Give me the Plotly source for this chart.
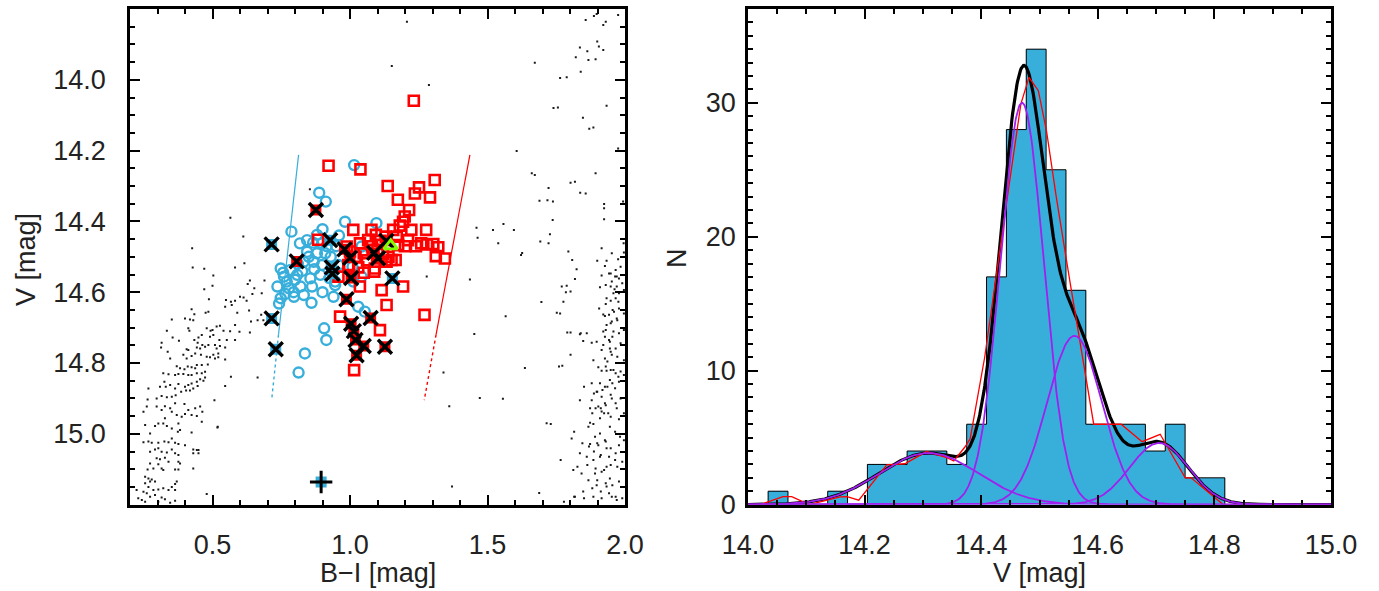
import numpy as np
import plotly.graph_objects as go

# ---------------- colour-magnitude diagram (left panel) ----------------
# field stars, blue (left) sequence
field_left_bi = [
    0.428, 0.470, 0.582, 0.616, 0.503, 0.500, 0.470, 0.636, 0.689, 0.628,
    0.652, 0.679, 0.645, 0.613, 0.600, 0.624, 0.549, 0.567, 0.582, 0.487,
    0.546, 0.570, 0.590, 0.633, 0.677, 0.664, 0.685, 0.485, 0.475, 0.434,
    0.424, 0.400, 0.418, 0.430, 0.352, 0.412, 0.416, 0.479, 0.493, 0.500,
    0.515, 0.527, 0.540, 0.564, 0.582, 0.598, 0.636, 0.640, 0.582, 0.552,
    0.525, 0.503, 0.491, 0.461, 0.449, 0.434, 0.378, 0.355, 0.334, 0.315,
    0.313, 0.446, 0.443, 0.455, 0.463, 0.473, 0.485, 0.509, 0.515, 0.527,
    0.546, 0.521, 0.503, 0.491, 0.509, 0.521, 0.546, 0.479, 0.458, 0.437,
    0.424, 0.412, 0.406, 0.394, 0.406, 0.346, 0.337, 0.370, 0.382, 0.398,
    0.410, 0.424, 0.437, 0.443, 0.461, 0.483, 0.473, 0.461, 0.443, 0.424,
    0.412, 0.394, 0.376, 0.364, 0.340, 0.321, 0.325, 0.309, 0.330, 0.346,
    0.364, 0.376, 0.400, 0.412, 0.424, 0.443, 0.455, 0.473, 0.467, 0.446,
    0.430, 0.418, 0.404, 0.386, 0.366, 0.352, 0.334, 0.315, 0.297, 0.267,
    0.264, 0.261, 0.249, 0.297, 0.315, 0.327, 0.346, 0.352, 0.370, 0.388,
    0.400, 0.412, 0.437, 0.455, 0.443, 0.463, 0.424, 0.364, 0.398, 0.327,
    0.321, 0.334, 0.352, 0.376, 0.382, 0.374, 0.303, 0.291, 0.273, 0.255,
    0.424, 0.461, 0.519, 0.507, 0.546, 0.567, 0.664, 0.249, 0.267, 0.279,
    0.303, 0.325, 0.340, 0.352, 0.364, 0.376, 0.400, 0.273, 0.291, 0.303,
    0.315, 0.334, 0.352, 0.364, 0.376, 0.297, 0.309, 0.327, 0.340, 0.376,
    0.382, 0.273, 0.264, 0.285, 0.303, 0.315, 0.321, 0.364, 0.376, 0.430,
    0.443, 0.430, 0.449, 0.430, 0.255, 0.267, 0.279, 0.291, 0.273, 0.255,
    0.267, 0.285, 0.303, 0.321, 0.340, 0.364, 0.364, 0.352, 0.370, 0.224,
    0.249, 0.261, 0.273, 0.291, 0.315, 0.327, 0.346, 0.230, 0.243, 0.255,
    0.303, 0.479, 0.364, 0.565, 0.612, 0.426,
]
field_left_v = [
    14.530, 14.534, 14.530, 14.518, 14.553, 14.582, 14.592, 14.567, 14.567, 14.577,
    14.589, 14.603, 14.605, 14.615, 14.613, 14.624, 14.622, 14.627, 14.624, 14.620,
    14.641, 14.636, 14.658, 14.652, 14.664, 14.679, 14.679, 14.655, 14.658, 14.662,
    14.648, 14.674, 14.677, 14.679, 14.677, 14.702, 14.709, 14.702, 14.709, 14.707,
    14.697, 14.695, 14.709, 14.710, 14.693, 14.712, 14.714, 14.683, 14.735, 14.735,
    14.735, 14.721, 14.726, 14.721, 14.728, 14.735, 14.737, 14.728, 14.709, 14.743,
    14.756, 14.743, 14.756, 14.759, 14.749, 14.754, 14.749, 14.749, 14.759, 14.752,
    14.756, 14.773, 14.777, 14.784, 14.787, 14.784, 14.790, 14.782, 14.777, 14.773,
    14.780, 14.763, 14.761, 14.777, 14.787, 14.787, 14.768, 14.809, 14.815, 14.818,
    14.810, 14.812, 14.815, 14.806, 14.806, 14.804, 14.825, 14.829, 14.829, 14.834,
    14.834, 14.831, 14.831, 14.834, 14.832, 14.829, 14.853, 14.867, 14.867, 14.862,
    14.872, 14.859, 14.867, 14.862, 14.858, 14.853, 14.846, 14.841, 14.850, 14.865,
    14.872, 14.878, 14.878, 14.881, 14.891, 14.895, 14.897, 14.893, 14.900, 14.872,
    14.903, 14.923, 14.938, 14.923, 14.933, 14.922, 14.928, 14.938, 14.947, 14.952,
    14.944, 14.933, 14.928, 14.923, 14.950, 14.938, 14.947, 14.914, 14.916, 14.956,
    14.971, 14.978, 14.985, 14.971, 14.989, 14.994, 14.971, 14.978, 14.999, 14.975,
    14.996, 14.966, 14.980, 14.905, 14.865, 14.839, 14.841, 15.024, 15.022, 15.025,
    15.025, 15.022, 15.024, 15.013, 15.025, 15.029, 15.032, 15.051, 15.044, 15.041,
    15.051, 15.053, 15.044, 15.055, 15.060, 15.069, 15.072, 15.068, 15.079, 15.079,
    15.084, 15.084, 15.101, 15.098, 15.086, 15.098, 15.102, 15.101, 15.101, 15.044,
    15.046, 15.055, 15.055, 15.098, 15.121, 15.126, 15.129, 15.135, 15.135, 15.140,
    15.150, 15.159, 15.157, 15.154, 15.159, 15.142, 15.159, 15.150, 15.135, 15.159,
    15.164, 15.168, 15.178, 15.173, 15.180, 15.185, 15.195, 15.182, 15.187, 15.192,
    15.192, 15.170, 15.189, 14.390, 14.443, 14.476,
]

# field stars, red (right) sequence
field_right_bi = [
    1.975, 1.897, 1.887, 1.857, 1.930, 1.921, 1.899, 1.905, 1.921, 1.836,
    1.863, 1.867, 1.893, 1.839, 1.788, 1.756, 1.933, 1.847, 1.885, 1.975,
    1.893, 1.818, 1.857, 1.722, 1.718, 1.738, 1.737, 1.924, 1.924, 1.924,
    1.993, 1.727, 1.722, 1.975, 1.808, 1.933, 1.995, 1.996, 1.984, 1.966,
    1.942, 1.970, 1.978, 1.824, 1.788, 1.802, 1.930, 1.948, 1.962, 1.990,
    1.996, 1.978, 1.966, 1.948, 1.930, 1.764, 1.921, 1.942, 1.960, 1.978,
    1.996, 1.972, 1.948, 1.930, 1.996, 1.978, 1.954, 1.942, 1.802, 1.839,
    1.861, 1.897, 1.984, 1.966, 1.948, 1.972, 1.996, 1.936, 1.930, 1.948,
    1.966, 1.984, 1.996, 1.772, 1.851, 1.978, 1.954, 1.936, 1.918, 1.899,
    1.887, 1.948, 1.984, 1.966, 1.930, 1.912, 1.893, 1.881, 1.924, 1.948,
    1.978, 1.996, 1.730, 1.815, 1.845, 1.869, 1.899, 1.930, 1.948, 1.978,
    1.996, 1.887, 1.912, 1.942, 1.966, 1.827, 1.863, 1.893, 1.924, 1.948,
    1.972, 1.990, 1.899, 1.930, 1.954, 1.978, 1.881, 1.912, 1.942, 1.966,
    1.990, 1.815, 1.851, 1.778,
    1.915, 1.952, 1.794, 1.899, 1.927, 1.948, 1.964, 1.915, 1.818, 1.952,
    1.970, 1.909, 1.770, 1.785, 1.958, 1.933, 1.976, 1.776, 1.906, 1.955,
    1.752, 1.927, 1.970, 1.952, 1.933, 1.921, 1.958, 1.790, 1.836, 1.927,
    1.848, 1.879, 1.945, 1.921, 1.945, 1.915, 1.952, 1.802, 1.885, 1.927,
    1.903, 1.915, 1.933, 1.958, 1.760, 1.976, 1.945, 1.909, 1.879, 1.927,
    1.964, 1.897, 1.915, 1.879, 1.952, 1.836, 1.927, 1.903, 1.970, 1.873,
    1.915, 1.939, 1.909, 1.873, 1.885, 1.867, 1.715, 1.945, 1.964, 1.909,
    1.891, 1.927, 1.982, 1.873, 1.806, 1.903, 1.933, 1.836, 1.861, 1.885,
    1.909, 1.933, 1.964, 1.812, 1.842, 1.891, 1.915, 1.945, 1.867, 1.897,
    1.933, 1.848, 1.885, 1.915, 1.952, 1.970, 1.818,
]
field_right_v = [
    13.817, 13.814, 13.820, 13.831, 13.836, 13.845, 13.892, 13.906, 13.916, 13.909,
    13.919, 13.944, 13.942, 13.977, 13.993, 14.078, 14.073, 14.107, 14.135, 14.194,
    14.264, 14.288, 14.321, 14.306, 14.340, 14.344, 14.396, 14.351, 14.363, 14.394,
    14.344, 14.436, 14.462, 14.507, 14.509, 14.511, 14.462, 14.488, 14.528, 14.537,
    14.547, 14.556, 14.561, 14.535, 14.582, 14.598, 14.580, 14.584, 14.592, 14.575,
    14.594, 14.603, 14.617, 14.624, 14.633, 14.660, 14.663, 14.664, 14.655, 14.646,
    14.660, 14.679, 14.688, 14.707, 14.707, 14.716, 14.726, 14.735, 14.714, 14.716,
    14.716, 14.740, 14.744, 14.759, 14.768, 14.782, 14.792, 14.796, 14.810, 14.820,
    14.829, 14.824, 14.834, 14.808, 14.867, 14.853, 14.857, 14.867, 14.876, 14.881,
    14.886, 14.890, 14.900, 14.914, 14.919, 14.928, 14.928, 14.942, 14.942, 14.952,
    14.959, 14.942, 14.972, 14.994, 15.027, 15.036, 15.027, 15.022, 15.041, 15.032,
    15.018, 15.050, 15.060, 15.065, 15.055, 15.093, 15.088, 15.098, 15.102, 15.088,
    15.093, 15.079, 15.131, 15.140, 15.145, 15.135, 15.154, 15.163, 15.168, 15.178,
    15.182, 15.178, 15.182, 15.192,
    14.476, 14.490, 14.485, 14.511, 14.526, 14.547, 14.556, 14.553, 14.563, 14.570,
    14.584, 14.586, 14.584, 14.600, 14.603, 14.617, 14.627, 14.627, 14.646, 14.650,
    14.658, 14.667, 14.674, 14.683, 14.693, 14.711, 14.711, 14.714, 14.719, 14.726,
    14.738, 14.743, 14.740, 14.749, 14.759, 14.763, 14.777, 14.777, 14.792, 14.787,
    14.812, 14.822, 14.822, 14.820, 14.810, 14.839, 14.848, 14.857, 14.857, 14.867,
    14.871, 14.881, 14.895, 14.905, 14.900, 14.905, 14.914, 14.923, 14.928, 14.928,
    14.937, 14.942, 14.956, 14.969, 14.972, 14.980, 14.970, 14.980, 14.994, 14.999,
    15.008, 15.018, 15.008, 15.029, 15.013, 15.032, 15.041, 15.055, 15.065, 15.074,
    15.065, 15.093, 15.074, 15.102, 15.112, 15.112, 15.107, 15.126, 15.131, 15.145,
    15.149, 15.163, 15.178, 15.182, 15.178, 15.187, 15.178,
]

# scattered field stars in between
field_mid_bi = [
    1.207, 1.152, 1.287, 1.672, 1.606, 1.661, 1.689, 1.460, 1.464, 1.520,
    1.596, 1.539, 1.622, 1.692, 1.740, 1.764, 1.672, 1.802, 1.837, 1.870,
    1.821, 1.436, 1.558, 1.566, 1.472, 1.361, 1.556, 1.636, 1.452, 1.696,
    1.766, 1.371, 1.688, 0.518, 0.449, 1.626, 0.854, 1.279, 1.340,
]
field_mid_v = [
    13.836, 13.961, 14.015, 13.952, 14.201, 14.264, 14.342, 14.418, 14.446, 14.424,
    14.424, 14.462, 14.495, 14.457, 14.080, 13.995, 14.269, 14.291, 14.319, 14.138,
    13.936, 14.564, 14.407, 14.668, 14.899, 14.922, 14.901, 14.814, 14.718, 14.628,
    15.074, 15.149, 15.167, 14.982, 15.046, 14.489, 14.309, 14.556, 14.827,
]

# blue horizontal-branch members (open circles)
blue_bi = [
    1.015, 0.888, 0.912, 0.787, 0.982, 0.900, 1.096, 0.880, 0.844, 0.818,
    0.866, 0.898, 0.844, 0.880, 0.832, 0.868, 0.898, 0.748, 0.784, 0.760,
    0.808, 0.856, 0.892, 0.736, 0.778, 0.820, 0.862, 0.748, 0.742, 0.796,
    0.832, 0.946, 1.012, 1.042, 0.940, 1.030, 1.054, 0.958, 1.042, 0.946,
    0.906, 0.914, 0.836, 0.813, 0.757, 0.770, 0.795, 0.810, 0.826, 0.850,
    0.870, 0.910, 0.930, 0.950, 0.800, 0.765, 0.900, 0.860, 0.915, 0.925,
    0.960, 1.009,
]
blue_v = [
    14.241, 14.319, 14.344, 14.429, 14.401, 14.422, 14.405, 14.438, 14.453, 14.462,
    14.460, 14.462, 14.486, 14.490, 14.514, 14.514, 14.523, 14.533, 14.537, 14.556,
    14.551, 14.561, 14.551, 14.584, 14.589, 14.584, 14.584, 14.617, 14.632, 14.613,
    14.608, 14.580, 14.570, 14.556, 14.613, 14.641, 14.655, 14.523, 14.471, 14.570,
    14.702, 14.735, 14.773, 14.827, 14.545, 14.570, 14.600, 14.520, 14.540, 14.500,
    14.535, 14.490, 14.500, 14.470, 14.565, 14.605, 14.600, 14.630, 14.470, 14.560,
    14.440, 14.528,
]

# red clump members (open squares)
red_bi = [
    1.232, 0.922, 1.038, 1.137, 1.308, 1.251, 1.236, 1.291, 1.174, 1.215,
    1.199, 1.193, 1.181, 1.012, 1.078, 1.157, 1.223, 1.277, 0.884, 1.094,
    1.130, 1.170, 1.211, 1.259, 1.303, 1.321, 1.312, 1.345, 1.175, 1.066,
    1.036, 0.988, 1.151, 1.133, 1.166, 0.994, 1.090, 0.958, 1.193, 1.115,
    1.036, 1.133, 1.271, 0.964, 1.109, 1.015, 1.088, 1.000, 1.020, 1.050,
    1.062, 1.080, 1.100, 1.120, 1.140, 1.030, 0.997, 1.050, 1.082, 1.200,
    1.240, 1.280, 1.110,
]
red_v = [
    14.059, 14.243, 14.253, 14.300, 14.283, 14.304, 14.321, 14.332, 14.339, 14.368,
    14.386, 14.401, 14.412, 14.424, 14.424, 14.424, 14.424, 14.424, 14.452, 14.438,
    14.443, 14.443, 14.453, 14.462, 14.464, 14.473, 14.498, 14.505, 14.467, 14.453,
    14.462, 14.471, 14.509, 14.514, 14.509, 14.523, 14.533, 14.556, 14.584, 14.594,
    14.584, 14.636, 14.664, 14.669, 14.707, 14.820, 14.542, 14.485, 14.500, 14.490,
    14.510, 14.470, 14.480, 14.492, 14.500, 14.530, 14.528, 14.545, 14.481, 14.470,
    14.470, 14.465, 14.455,
]

# flagged stars (crosses) in the blue and in the red group
cross_blue_bi = [0.715, 0.715, 0.730, 1.154, 0.928, 0.934, 0.936]
cross_blue_v = [14.465, 14.674, 14.761, 14.561, 14.453, 14.530, 14.548]
cross_red_bi = [0.876, 0.806, 1.127, 0.980, 1.000, 1.004, 0.987, 1.088, 1.102,
                1.132, 1.004, 1.075, 1.014, 1.020, 1.050, 1.024]
cross_red_v = [14.368, 14.513, 14.754, 14.479, 14.503, 14.560, 14.620, 14.489, 14.504,
               14.455, 14.689, 14.673, 14.710, 14.735, 14.752, 14.778]

# single special stars
tri_bi, tri_v = [1.148], [14.469]
plus_bi, plus_v = [0.895], [15.136]

# instability-strip style boundaries (solid part, dotted extension)
blue_edge_bi = [0.813, 0.740, 0.715]
blue_edge_v = [14.212, 14.720, 14.905]
red_edge_bi = [1.436, 1.313, 1.270]
red_edge_v = [14.212, 14.720, 14.905]

# ---------------- V-magnitude histogram (right panel) ----------------
hist_start = 14.0345
hist_binsize = 0.03406
hist_counts = [1, 0, 0, 1, 0, 3, 3, 4, 4, 3, 6, 17, 28, 34, 25, 16, 6, 6, 6, 4, 6, 2, 2]

# fitted Gaussian components
gauss_center = [14.31, 14.47, 14.56, 14.705]
gauss_amp = [3.85, 30.0, 12.6, 4.6]
gauss_sigma = [0.085, 0.037, 0.047, 0.05]

# smoothed distribution
smooth_v = [14.00, 14.021, 14.06, 14.075, 14.105, 14.158, 14.17, 14.19, 14.238, 14.269,
            14.306, 14.341, 14.353, 14.372, 14.381, 14.406, 14.449, 14.468, 14.482, 14.498,
            14.512, 14.529, 14.552, 14.593, 14.640, 14.676, 14.707, 14.750, 14.760, 14.815,
            15.00]
smooth_n = [0, 0, 0.6, 0.6, 0.0, 0.57, 0.6, 0.33, 2.96, 3.05,
            3.96, 3.5, 3.26, 4.3, 4.9, 11.0, 24.2, 29.9, 31.9, 30.9,
            27.9, 22.9, 16.7, 6.0, 6.0, 4.7, 5.25, 2.0, 2.0, 0,
            0]

BLUE = "#38AEDB"
RED = "#FF0000"
PURPLE = "#A020F0"
GREEN = "#7FFF00"
FONT = dict(family="Liberation Sans", size=27, color="#222222")

fig = go.Figure()

# --- left panel traces ---
fig.add_trace(go.Scatter(
    x=field_left_bi + field_right_bi + field_mid_bi,
    y=field_left_v + field_right_v + field_mid_v,
    mode="markers", marker=dict(symbol="square", size=2, color="#1a1a1a"),
    xaxis="x", yaxis="y", hoverinfo="skip"))

for ex, ey, col in ((blue_edge_bi, blue_edge_v, BLUE), (red_edge_bi, red_edge_v, RED)):
    fig.add_trace(go.Scatter(x=ex[:2], y=ey[:2], mode="lines",
                             line=dict(color=col, width=1.2), xaxis="x", yaxis="y"))
    fig.add_trace(go.Scatter(x=ex[1:], y=ey[1:], mode="lines",
                             line=dict(color=col, width=1.4, dash="dot"), xaxis="x", yaxis="y"))

fig.add_trace(go.Scatter(
    x=blue_bi, y=blue_v, mode="markers",
    marker=dict(symbol="circle-open", size=10, color=BLUE, line=dict(width=2.4, color=BLUE)),
    xaxis="x", yaxis="y"))
fig.add_trace(go.Scatter(
    x=red_bi, y=red_v, mode="markers",
    marker=dict(symbol="square-open", size=10, color=RED, line=dict(width=2.6, color=RED)),
    xaxis="x", yaxis="y"))

# filled backgrounds for flagged stars
fig.add_trace(go.Scatter(
    x=cross_blue_bi + plus_bi, y=cross_blue_v + plus_v, mode="markers",
    marker=dict(symbol="square", size=11, color=BLUE), xaxis="x", yaxis="y"))
fig.add_trace(go.Scatter(
    x=cross_red_bi, y=cross_red_v, mode="markers",
    marker=dict(symbol="square", size=11, color=RED), xaxis="x", yaxis="y"))
fig.add_trace(go.Scatter(
    x=cross_blue_bi + cross_red_bi, y=cross_blue_v + cross_red_v, mode="markers",
    marker=dict(symbol="x-thin-open", size=14, color="#000000",
                line=dict(width=3.4, color="#000000")), xaxis="x", yaxis="y"))
fig.add_trace(go.Scatter(
    x=plus_bi, y=plus_v, mode="markers",
    marker=dict(symbol="cross-thin-open", size=16, color="#000000",
                line=dict(width=3, color="#000000")), xaxis="x", yaxis="y"))
fig.add_trace(go.Scatter(
    x=tri_bi, y=tri_v, mode="markers",
    marker=dict(symbol="triangle-up-open", size=12, color=GREEN,
                line=dict(width=2.8, color=GREEN)), xaxis="x", yaxis="y"))

# --- right panel traces ---
edges = hist_start + hist_binsize * np.arange(len(hist_counts) + 1)
centers = 0.5 * (edges[:-1] + edges[1:])
fig.add_trace(go.Bar(x=centers, y=hist_counts, width=hist_binsize,
                     marker=dict(color=BLUE, line=dict(width=0)),
                     xaxis="x2", yaxis="y2"))
step_x = [edges[0]]
step_y = [0]
for i, c in enumerate(hist_counts):
    step_x += [edges[i], edges[i + 1]]
    step_y += [c, c]
step_x.append(edges[-1])
step_y.append(0)
fig.add_trace(go.Scatter(x=step_x, y=step_y, mode="lines",
                         line=dict(color="#000000", width=1), xaxis="x2", yaxis="y2"))

grid = np.linspace(14.0, 15.0, 801)
components = [a * np.exp(-0.5 * ((grid - c) / s) ** 2)
              for c, a, s in zip(gauss_center, gauss_amp, gauss_sigma)]
fig.add_trace(go.Scatter(x=grid, y=np.sum(components, axis=0), mode="lines",
                         line=dict(color="#000000", width=3.2), xaxis="x2", yaxis="y2"))
fig.add_trace(go.Scatter(x=smooth_v, y=smooth_n, mode="lines",
                         line=dict(color=RED, width=1.3), xaxis="x2", yaxis="y2"))
for comp in components:
    fig.add_trace(go.Scatter(x=grid, y=comp, mode="lines",
                             line=dict(color=PURPLE, width=1.8), xaxis="x2", yaxis="y2"))

# --- axes ---
W, H = 1379, 591
y_dom = [(H - 504.6) / H, (H - 9) / H]


def frame_axis(**kw):
    base = dict(showline=True, linewidth=2.5, linecolor="#000000", mirror="allticks",
                ticks="inside", ticklen=10, tickwidth=2.2, tickcolor="#000000",
                showgrid=False, zeroline=False, tickfont=FONT, tickmode="array",
                automargin=False)
    base.update(kw)
    return base


lx_major = [0.5, 1.0, 1.5, 2.0]
lx_minor = [round(v, 2) for v in np.arange(0.3, 2.0, 0.1) if round(v, 2) not in lx_major]
ly_major = [14.0, 14.2, 14.4, 14.6, 14.8, 15.0]
ly_minor = [round(v, 3) for v in np.arange(13.85, 15.2, 0.05) if round(v, 3) not in ly_major]
rx_major = [14.0, 14.2, 14.4, 14.6, 14.8, 15.0]
rx_minor = [round(v, 3) for v in np.arange(14.05, 15.0, 0.05) if round(v, 3) not in rx_major]
ry_major = [0, 10, 20, 30]
ry_minor = [v for v in range(1, 37) if v not in ry_major]

minor_style = dict(ticks="inside", ticklen=5, tickwidth=2, tickcolor="#000000",
                   showgrid=False, tickmode="array")

fig.update_layout(
    template="none",
    width=W, height=H, margin=dict(l=0, r=0, t=0, b=0, pad=0, autoexpand=False),
    paper_bgcolor="white", plot_bgcolor="white", showlegend=False, bargap=0,
    xaxis=frame_axis(domain=[130 / W, 625 / W], range=[0.2, 2.0],
                     tickvals=lx_major, ticktext=[f"{v:.1f}" for v in lx_major],
                     minor=dict(minor_style, tickvals=lx_minor), ticklabelstandoff=14),
    yaxis=frame_axis(domain=y_dom, range=[15.2, 13.8],
                     tickvals=ly_major, ticktext=[f"{v:.1f}" for v in ly_major],
                     minor=dict(minor_style, tickvals=ly_minor), ticklabelstandoff=16),
    xaxis2=frame_axis(domain=[748 / W, 1331 / W], range=[14.0, 15.0], anchor="y2",
                      tickvals=rx_major, ticktext=[f"{v:.1f}" for v in rx_major],
                      minor=dict(minor_style, tickvals=rx_minor), ticklabelstandoff=14),
    yaxis2=frame_axis(domain=y_dom, range=[0, 37], anchor="x2",
                      tickvals=ry_major, ticktext=[str(v) for v in ry_major],
                      minor=dict(minor_style, tickvals=ry_minor), ticklabelstandoff=4),
    annotations=[
        dict(text="V [mag]", x=26 / W, y=(H - 260) / H, xref="paper", yref="paper",
             xanchor="center", yanchor="middle", textangle=-90, showarrow=False, font=FONT),
        dict(text="B\u2212I [mag]", x=378 / W, y=(H - 573) / H, xref="paper", yref="paper",
             xanchor="center", yanchor="middle", showarrow=False, font=FONT),
        dict(text="N", x=677 / W, y=(H - 258) / H, xref="paper", yref="paper",
             xanchor="center", yanchor="middle", textangle=-90, showarrow=False, font=FONT),
        dict(text="V [mag]", x=1039 / W, y=(H - 573) / H, xref="paper", yref="paper",
             xanchor="center", yanchor="middle", showarrow=False, font=FONT),
    ],
)

fig.write_html("out.html")
